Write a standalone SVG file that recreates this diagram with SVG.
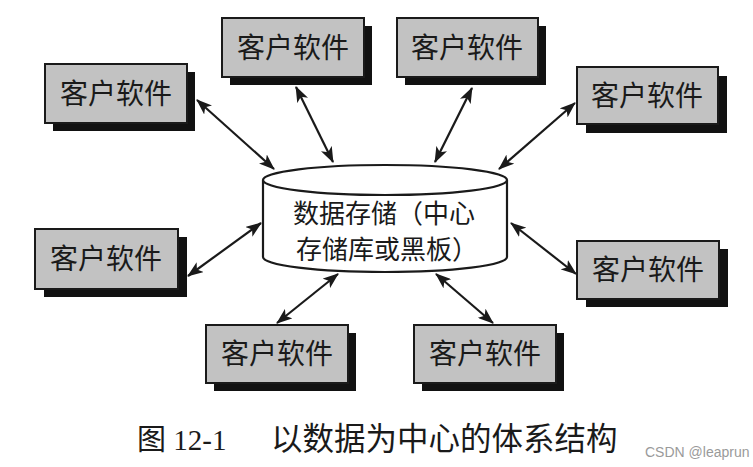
<svg xmlns="http://www.w3.org/2000/svg" width="753" height="467" viewBox="0 0 753 467">
<style>
.shadow{fill:#111}
.box{fill:#c2c2c2;stroke:#1a1a1a;stroke-width:2}
.lbl{font-family:"Noto Sans CJK SC",sans-serif;font-size:28px;fill:#1a1a1a;text-anchor:middle}
.cl{font-family:"Noto Sans CJK SC",sans-serif;font-size:26px;fill:#1a1a1a;text-anchor:middle}
.conn{stroke:#1a1a1a;stroke-width:2.2;fill:none;marker-start:url(#ah);marker-end:url(#ah)}
.cyl{fill:#fff;stroke:#1a1a1a;stroke-width:2.2}
</style>
<defs>
<marker id="ah" viewBox="0 0 16 12" refX="15" refY="6" markerWidth="16" markerHeight="12" markerUnits="userSpaceOnUse" orient="auto-start-reverse">
<path d="M0,0 L16,6 L0,12 L4,6 z" fill="#1a1a1a"/>
</marker>
</defs>
<rect width="753" height="467" fill="#fff"/>
<g id="connectors">
<line class="conn" x1="197" y1="100" x2="274" y2="169"/>
<line class="conn" x1="296" y1="87" x2="333" y2="162"/>
<line class="conn" x1="472" y1="88" x2="435" y2="162"/>
<line class="conn" x1="575" y1="103" x2="499" y2="169"/>
<line class="conn" x1="188" y1="276" x2="261" y2="223"/>
<line class="conn" x1="511" y1="223" x2="576" y2="274"/>
<line class="conn" x1="338" y1="274" x2="277" y2="323"/>
<line class="conn" x1="436" y1="274" x2="493" y2="323"/>
</g>
<g id="store">
<path class="cyl" d="M263,180 L263,257 A122,15 0 0 0 507,257 L507,180"/>
<ellipse class="cyl" cx="385" cy="180" rx="122" ry="15"/>
<text class="cl" x="384" y="223">数据存储（中心</text>
<text class="cl" x="387" y="259">存储库或黑板）</text>
</g>
<g id="client-tl"><rect class="shadow" x="53" y="72" width="142" height="59"/><rect class="box" x="45" y="64" width="142" height="59"/><text class="lbl" x="116" y="104">客户软件</text></g>
<g id="client-tml"><rect class="shadow" x="230" y="26" width="142" height="59"/><rect class="box" x="222" y="18" width="142" height="59"/><text class="lbl" x="293" y="58">客户软件</text></g>
<g id="client-tmr"><rect class="shadow" x="405" y="26" width="141" height="59"/><rect class="box" x="397" y="18" width="141" height="59"/><text class="lbl" x="467" y="58">客户软件</text></g>
<g id="client-tr"><rect class="shadow" x="586" y="76" width="141" height="57"/><rect class="box" x="577" y="67" width="141" height="57"/><text class="lbl" x="647" y="106">客户软件</text></g>
<g id="client-lm"><rect class="shadow" x="44" y="237" width="143" height="60"/><rect class="box" x="35" y="229" width="143" height="60"/><text class="lbl" x="106" y="269">客户软件</text></g>
<g id="client-rm"><rect class="shadow" x="586" y="249" width="142" height="58"/><rect class="box" x="577" y="241" width="142" height="58"/><text class="lbl" x="648" y="280">客户软件</text></g>
<g id="client-bl"><rect class="shadow" x="214" y="333" width="142" height="58"/><rect class="box" x="206" y="325" width="142" height="58"/><text class="lbl" x="277" y="364">客户软件</text></g>
<g id="client-br"><rect class="shadow" x="422" y="333" width="142" height="58"/><rect class="box" x="414" y="325" width="142" height="58"/><text class="lbl" x="485" y="364">客户软件</text></g>
<g id="caption">
<text x="137" y="450" font-family="'Liberation Serif','Noto Sans CJK SC',serif" font-size="29" fill="#1a1a1a">图 12-1</text>
<text x="271" y="450" font-family="'Liberation Serif','Noto Sans CJK SC',serif" font-size="31.5" fill="#1a1a1a">以数据为中心的体系结构</text>
<text x="645" y="457" font-family="'Liberation Sans',sans-serif" font-size="14" fill="#9a9a9a">CSDN @leaprun</text>
</g>
</svg>
